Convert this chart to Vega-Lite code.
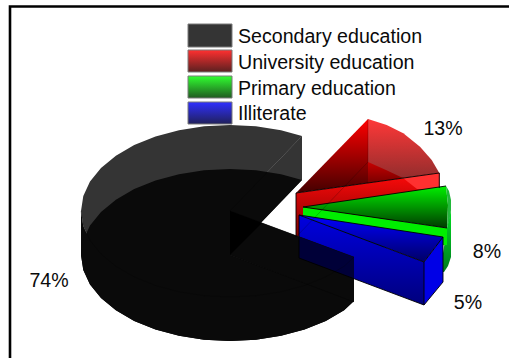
{
"$schema":"https://vega.github.io/schema/vega-lite/v6.json",
"width":509,"height":358,"padding":0,"autosize":"none","background":"white",
"config":{"view":{"stroke":null}},
"datasets":{"outlines":[
{"part":"redLeft","seq":1,"x":296,"y":193},{"part":"redLeft","seq":2,"x":368,"y":119},{"part":"redLeft","seq":3,"x":368,"y":183},
{"part":"redRim","seq":1,"x":368,"y":119},{"part":"redRim","seq":2,"x":386.7,"y":125},{"part":"redRim","seq":3,"x":403.3,"y":133.3},{"part":"redRim","seq":4,"x":420,"y":146.7},{"part":"redRim","seq":5,"x":431.7,"y":160},{"part":"redRim","seq":6,"x":439.3,"y":173},{"part":"redRim","seq":7,"x":368,"y":183},
{"part":"redFloor","seq":1,"x":368,"y":162},{"part":"redFloor","seq":2,"x":386,"y":170},{"part":"redFloor","seq":3,"x":403,"y":178},{"part":"redFloor","seq":4,"x":368,"y":183},
{"part":"redWall","seq":1,"x":296,"y":193},{"part":"redWall","seq":2,"x":439.3,"y":173},{"part":"redWall","seq":3,"x":439.3,"y":216},{"part":"redWall","seq":4,"x":296,"y":237},
{"part":"redGlow","seq":1,"x":403,"y":178},{"part":"redGlow","seq":2,"x":439.3,"y":173},{"part":"redGlow","seq":3,"x":439.3,"y":189},{"part":"redGlow","seq":4,"x":417,"y":189},
{"part":"greenOuter","seq":1,"x":447,"y":228},{"part":"greenOuter","seq":2,"x":451,"y":210},{"part":"greenOuter","seq":3,"x":451,"y":257},{"part":"greenOuter","seq":4,"x":448,"y":266},{"part":"greenOuter","seq":5,"x":444,"y":272},{"part":"greenOuter","seq":6,"x":440,"y":272},
{"part":"greenWall","seq":1,"x":303,"y":207},{"part":"greenWall","seq":2,"x":447,"y":228},{"part":"greenWall","seq":3,"x":447,"y":245},{"part":"greenWall","seq":4,"x":303,"y":250},
{"part":"greenTop","seq":1,"x":303,"y":207},{"part":"greenTop","seq":2,"x":446,"y":186},{"part":"greenTop","seq":3,"x":448,"y":205},{"part":"greenTop","seq":4,"x":447,"y":228},
{"part":"greenCrescent","seq":1,"x":446,"y":186},{"part":"greenCrescent","seq":2,"x":449,"y":191},{"part":"greenCrescent","seq":3,"x":451,"y":200},{"part":"greenCrescent","seq":4,"x":451,"y":210},{"part":"greenCrescent","seq":5,"x":449.5,"y":220},{"part":"greenCrescent","seq":6,"x":447,"y":228},{"part":"greenCrescent","seq":7,"x":448,"y":205},
{"part":"blueWall","seq":1,"x":299,"y":215},{"part":"blueWall","seq":2,"x":424,"y":262},{"part":"blueWall","seq":3,"x":424,"y":305},{"part":"blueWall","seq":4,"x":299,"y":258},
{"part":"blueOuter","seq":1,"x":424,"y":262},{"part":"blueOuter","seq":2,"x":443,"y":237},{"part":"blueOuter","seq":3,"x":443,"y":282},{"part":"blueOuter","seq":4,"x":424,"y":305},
{"part":"blueTop","seq":1,"x":299,"y":215},{"part":"blueTop","seq":2,"x":443,"y":237},{"part":"blueTop","seq":3,"x":424,"y":262},
{"part":"pieTop","seq":0,"x":230,"y":211},
{"part":"pieTop","seq":1,"x":302,"y":136},{"part":"pieTop","seq":2,"x":281,"y":130.2},{"part":"pieTop","seq":3,"x":255.9,"y":126.3},{"part":"pieTop","seq":4,"x":230,"y":125},{"part":"pieTop","seq":5,"x":204.1,"y":126.3},{"part":"pieTop","seq":6,"x":179,"y":130.2},{"part":"pieTop","seq":7,"x":155.5,"y":136.5},{"part":"pieTop","seq":8,"x":134.2,"y":145.1},{"part":"pieTop","seq":9,"x":115.9,"y":155.7},{"part":"pieTop","seq":10,"x":101,"y":168},{"part":"pieTop","seq":11,"x":90,"y":181.6},{"part":"pieTop","seq":12,"x":83.3,"y":196.1},{"part":"pieTop","seq":13,"x":81,"y":211},{"part":"pieTop","seq":14,"x":83.3,"y":225.9},{"part":"pieTop","seq":15,"x":90,"y":240.4},{"part":"pieTop","seq":16,"x":101,"y":254},{"part":"pieTop","seq":17,"x":115.9,"y":266.3},{"part":"pieTop","seq":18,"x":134.2,"y":276.9},{"part":"pieTop","seq":19,"x":155.5,"y":285.5},{"part":"pieTop","seq":20,"x":179,"y":291.8},{"part":"pieTop","seq":21,"x":204.1,"y":295.7},{"part":"pieTop","seq":22,"x":230,"y":297},{"part":"pieTop","seq":23,"x":255.9,"y":295.7},{"part":"pieTop","seq":24,"x":281,"y":291.8},{"part":"pieTop","seq":25,"x":304.5,"y":285.5},{"part":"pieTop","seq":26,"x":325.8,"y":276.9},{"part":"pieTop","seq":27,"x":344.1,"y":266.3},{"part":"pieTop","seq":28,"x":354,"y":257},
{"part":"pieBackWall","seq":1,"x":230,"y":211},{"part":"pieBackWall","seq":2,"x":302,"y":136},{"part":"pieBackWall","seq":3,"x":302,"y":180},{"part":"pieBackWall","seq":4,"x":230,"y":255},
{"part":"pieSide","seq":1,"x":81,"y":211},{"part":"pieSide","seq":2,"x":83.3,"y":225.9},{"part":"pieSide","seq":3,"x":90,"y":240.4},{"part":"pieSide","seq":4,"x":101,"y":254},{"part":"pieSide","seq":5,"x":115.9,"y":266.3},{"part":"pieSide","seq":6,"x":134.2,"y":276.9},{"part":"pieSide","seq":7,"x":155.5,"y":285.5},{"part":"pieSide","seq":8,"x":179,"y":291.8},{"part":"pieSide","seq":9,"x":204.1,"y":295.7},{"part":"pieSide","seq":10,"x":230,"y":297},{"part":"pieSide","seq":11,"x":255.9,"y":295.7},{"part":"pieSide","seq":12,"x":281,"y":291.8},{"part":"pieSide","seq":13,"x":304.5,"y":285.5},{"part":"pieSide","seq":14,"x":325.8,"y":276.9},{"part":"pieSide","seq":15,"x":344.1,"y":266.3},{"part":"pieSide","seq":16,"x":354,"y":257},
{"part":"pieSide","seq":17,"x":354,"y":301},{"part":"pieSide","seq":18,"x":344.1,"y":310.3},{"part":"pieSide","seq":19,"x":325.8,"y":320.9},{"part":"pieSide","seq":20,"x":304.5,"y":329.5},{"part":"pieSide","seq":21,"x":281,"y":335.8},{"part":"pieSide","seq":22,"x":255.9,"y":339.7},{"part":"pieSide","seq":23,"x":230,"y":341},{"part":"pieSide","seq":24,"x":204.1,"y":339.7},{"part":"pieSide","seq":25,"x":179,"y":335.8},{"part":"pieSide","seq":26,"x":155.5,"y":329.5},{"part":"pieSide","seq":27,"x":134.2,"y":320.9},{"part":"pieSide","seq":28,"x":115.9,"y":310.3},{"part":"pieSide","seq":29,"x":101,"y":298},{"part":"pieSide","seq":30,"x":90,"y":284.4},{"part":"pieSide","seq":31,"x":83.3,"y":269.9},{"part":"pieSide","seq":32,"x":81,"y":255},
{"part":"pieBottom","seq":0,"x":230,"y":255},
{"part":"pieBottom","seq":1,"x":302,"y":180},{"part":"pieBottom","seq":2,"x":281,"y":174.2},{"part":"pieBottom","seq":3,"x":255.9,"y":170.3},{"part":"pieBottom","seq":4,"x":230,"y":169},{"part":"pieBottom","seq":5,"x":204.1,"y":170.3},{"part":"pieBottom","seq":6,"x":179,"y":174.2},{"part":"pieBottom","seq":7,"x":155.5,"y":180.5},{"part":"pieBottom","seq":8,"x":134.2,"y":189.1},{"part":"pieBottom","seq":9,"x":115.9,"y":199.7},{"part":"pieBottom","seq":10,"x":101,"y":212},{"part":"pieBottom","seq":11,"x":90,"y":225.6},{"part":"pieBottom","seq":12,"x":83.3,"y":240.1},{"part":"pieBottom","seq":13,"x":81,"y":255},{"part":"pieBottom","seq":14,"x":83.3,"y":269.9},{"part":"pieBottom","seq":15,"x":90,"y":284.4},{"part":"pieBottom","seq":16,"x":101,"y":298},{"part":"pieBottom","seq":17,"x":115.9,"y":310.3},{"part":"pieBottom","seq":18,"x":134.2,"y":320.9},{"part":"pieBottom","seq":19,"x":155.5,"y":329.5},{"part":"pieBottom","seq":20,"x":179,"y":335.8},{"part":"pieBottom","seq":21,"x":204.1,"y":339.7},{"part":"pieBottom","seq":22,"x":230,"y":341},{"part":"pieBottom","seq":23,"x":255.9,"y":339.7},{"part":"pieBottom","seq":24,"x":281,"y":335.8},{"part":"pieBottom","seq":25,"x":304.5,"y":329.5},{"part":"pieBottom","seq":26,"x":325.8,"y":320.9},{"part":"pieBottom","seq":27,"x":344.1,"y":310.3},{"part":"pieBottom","seq":28,"x":354,"y":301},
{"part":"pieFrontWall","seq":1,"x":230,"y":211},{"part":"pieFrontWall","seq":2,"x":354,"y":257},{"part":"pieFrontWall","seq":3,"x":354,"y":302},{"part":"pieFrontWall","seq":4,"x":230,"y":255},
{"part":"pieCore","seq":1,"x":230,"y":211},{"part":"pieCore","seq":2,"x":262,"y":223},{"part":"pieCore","seq":3,"x":230,"y":255},
{"part":"blueShade","seq":1,"x":299,"y":236.6},{"part":"blueShade","seq":2,"x":354,"y":257},{"part":"blueShade","seq":3,"x":354,"y":278.7},{"part":"blueShade","seq":4,"x":299,"y":258},
{"part":"edgeA","seq":1,"x":296,"y":237},{"part":"edgeA","seq":2,"x":296,"y":193},{"part":"edgeA","seq":3,"x":439.3,"y":173},{"part":"edgeA","seq":4,"x":439.3,"y":188},
{"part":"edgeB","seq":1,"x":447,"y":228},{"part":"edgeB","seq":2,"x":303,"y":207},{"part":"edgeB","seq":3,"x":446,"y":186},
{"part":"edgeC","seq":1,"x":299,"y":215},{"part":"edgeC","seq":2,"x":443,"y":237},{"part":"edgeC","seq":3,"x":424,"y":262},{"part":"edgeC","seq":4,"x":299,"y":215},{"part":"edgeC","seq":5,"x":299,"y":258},{"part":"edgeC","seq":6,"x":424,"y":305},{"part":"edgeC","seq":7,"x":424,"y":262},
{"part":"edgeD","seq":1,"x":424,"y":305},{"part":"edgeD","seq":2,"x":443,"y":282},{"part":"edgeD","seq":3,"x":443,"y":237},
{"part":"faintA","seq":1,"x":230,"y":211},{"part":"faintA","seq":2,"x":302,"y":136},
{"part":"faintB","seq":1,"x":230,"y":255},{"part":"faintB","seq":2,"x":354,"y":302},
{"part":"faintC","seq":1,"x":230,"y":211},{"part":"faintC","seq":2,"x":354,"y":257},
{"part":"faintD","seq":1,"x":368,"y":119},{"part":"faintD","seq":2,"x":368,"y":162},{"part":"faintD","seq":3,"x":296,"y":237},
{"part":"faintE","seq":1,"x":81,"y":211},{"part":"faintE","seq":2,"x":83.3,"y":225.9},{"part":"faintE","seq":3,"x":90,"y":240.4},{"part":"faintE","seq":4,"x":101,"y":254},{"part":"faintE","seq":5,"x":115.9,"y":266.3},{"part":"faintE","seq":6,"x":134.2,"y":276.9},{"part":"faintE","seq":7,"x":155.5,"y":285.5},{"part":"faintE","seq":8,"x":179,"y":291.8},{"part":"faintE","seq":9,"x":204.1,"y":295.7},{"part":"faintE","seq":10,"x":230,"y":297},{"part":"faintE","seq":11,"x":255.9,"y":295.7},{"part":"faintE","seq":12,"x":281,"y":291.8},{"part":"faintE","seq":13,"x":304.5,"y":285.5},{"part":"faintE","seq":14,"x":325.8,"y":276.9},{"part":"faintE","seq":15,"x":344.1,"y":266.3},{"part":"faintE","seq":16,"x":354,"y":257},
{"part":"frame","seq":1,"x":10,"y":358},{"part":"frame","seq":2,"x":10,"y":6.5},{"part":"frame","seq":3,"x":509,"y":6.5}
]},
"data":{"name":"outlines"},
"encoding":{
"x":{"field":"x","type":"quantitative","axis":null,"scale":{"domain":[0,509],"nice":false,"zero":false}},
"y":{"field":"y","type":"quantitative","axis":null,"scale":{"domain":[358,0],"nice":false,"zero":false}},
"order":{"field":"seq","type":"quantitative"},
"detail":{"field":"part","type":"nominal"}
},
"layer":[
{"transform":[{"filter":"datum.part==='redLeft'"}],"mark":{"type":"line","strokeWidth":0,"clip":false,"fill":{"x1":0,"y1":0,"x2":0,"y2":1,"gradient":"linear","stops":[{"offset":0,"color":"#ff0000"},{"offset":1,"color":"#440000"}]}}},
{"transform":[{"filter":"datum.part==='redRim'"}],"mark":{"type":"line","strokeWidth":0,"fill":{"x1":0,"y1":0,"x2":0,"y2":1,"gradient":"linear","stops":[{"offset":0,"color":"#ff3838"},{"offset":1,"color":"#8a2c2c"}]}}},
{"transform":[{"filter":"datum.part==='redFloor'"}],"mark":{"type":"line","strokeWidth":0,"fill":{"x1":0,"y1":0,"x2":0,"y2":1,"gradient":"linear","stops":[{"offset":0,"color":"#c80000"},{"offset":1,"color":"#780000"}]}}},
{"transform":[{"filter":"datum.part==='redWall'"}],"mark":{"type":"line","strokeWidth":0,"fill":{"x1":0,"y1":0,"x2":0,"y2":1,"gradient":"linear","stops":[{"offset":0,"color":"#ff0a0a"},{"offset":1,"color":"#7a0000"}]}}},
{"transform":[{"filter":"datum.part==='redGlow'"}],"mark":{"type":"line","strokeWidth":0,"fill":"#ff3030"}},
{"transform":[{"filter":"datum.part==='greenOuter'"}],"mark":{"type":"line","strokeWidth":0,"fill":{"x1":0,"y1":0,"x2":0,"y2":1,"gradient":"linear","stops":[{"offset":0,"color":"#00e020"},{"offset":1,"color":"#007a20"}]}}},
{"transform":[{"filter":"datum.part==='greenWall'"}],"mark":{"type":"line","strokeWidth":0,"fill":"#00ee00"}},
{"transform":[{"filter":"datum.part==='greenTop'"}],"mark":{"type":"line","strokeWidth":0,"fill":{"x1":0,"y1":0,"x2":0,"y2":1,"gradient":"linear","stops":[{"offset":0,"color":"#00f000"},{"offset":1,"color":"#003a00"}]}}},
{"transform":[{"filter":"datum.part==='greenCrescent'"}],"mark":{"type":"line","strokeWidth":0,"fill":"#22b83a"}},
{"transform":[{"filter":"datum.part==='blueWall'"}],"mark":{"type":"line","strokeWidth":0,"fill":{"x1":0,"y1":0,"x2":0,"y2":1,"gradient":"linear","stops":[{"offset":0,"color":"#0000e0"},{"offset":1,"color":"#00007c"}]}}},
{"transform":[{"filter":"datum.part==='blueOuter'"}],"mark":{"type":"line","strokeWidth":0,"fill":"#0000e6"}},
{"transform":[{"filter":"datum.part==='blueTop'"}],"mark":{"type":"line","strokeWidth":0,"fill":{"x1":0,"y1":0,"x2":0,"y2":1,"gradient":"linear","stops":[{"offset":0,"color":"#0000ff"},{"offset":1,"color":"#000066"}]}}},
{"transform":[{"filter":"datum.part==='pieTop'||datum.part==='pieBackWall'"}],"mark":{"type":"line","strokeWidth":0,"fill":"#343434"}},
{"transform":[{"filter":"datum.part==='pieSide'||datum.part==='pieBottom'||datum.part==='pieFrontWall'"}],"mark":{"type":"line","strokeWidth":0,"fill":"#0a0a0a"}},
{"transform":[{"filter":"datum.part==='pieCore'"}],"mark":{"type":"line","strokeWidth":0,"fill":"#000000"}},
{"transform":[{"filter":"datum.part==='blueShade'"}],"mark":{"type":"line","strokeWidth":0,"fill":"#000038"}},
{"transform":[{"filter":"test(/^edge/, datum.part)"}],"mark":{"type":"line","stroke":"#000000","strokeWidth":0.9}},
{"transform":[{"filter":"test(/^faint/, datum.part)"}],"mark":{"type":"line","stroke":"#000000","strokeWidth":0.6,"opacity":0.35}},
{"transform":[{"filter":"datum.part==='frame'"}],"mark":{"type":"line","stroke":"#000000","strokeWidth":2.6,"clip":false}},
{"data":{"values":[{"x":188,"x2":232,"y":24,"y2":47}]},"mark":{"type":"rect","fill":"#343434","stroke":"#7a7a7a","strokeWidth":1},"encoding":{"x2":{"field":"x2"},"y2":{"field":"y2"}}},
{"data":{"values":[{"x":188,"x2":232,"y":50,"y2":72}]},"mark":{"type":"rect","stroke":"#7a7a7a","strokeWidth":1,"fill":{"x1":0,"y1":0,"x2":0,"y2":1,"gradient":"linear","stops":[{"offset":0,"color":"#ff3030"},{"offset":1,"color":"#5a2020"}]}},"encoding":{"x2":{"field":"x2"},"y2":{"field":"y2"}}},
{"data":{"values":[{"x":188,"x2":232,"y":76,"y2":98}]},"mark":{"type":"rect","stroke":"#7a7a7a","strokeWidth":1,"fill":{"x1":0,"y1":0,"x2":0,"y2":1,"gradient":"linear","stops":[{"offset":0,"color":"#30ff30"},{"offset":1,"color":"#205a20"}]}},"encoding":{"x2":{"field":"x2"},"y2":{"field":"y2"}}},
{"data":{"values":[{"x":188,"x2":232,"y":102,"y2":124}]},"mark":{"type":"rect","stroke":"#7a7a7a","strokeWidth":1,"fill":{"x1":0,"y1":0,"x2":0,"y2":1,"gradient":"linear","stops":[{"offset":0,"color":"#3030ff"},{"offset":1,"color":"#20205a"}]}},"encoding":{"x2":{"field":"x2"},"y2":{"field":"y2"}}},
{"data":{"values":[{"label":"Secondary education","x":238,"y":37},{"label":"University education","x":238,"y":62.5},{"label":"Primary education","x":238,"y":88.5},{"label":"Illiterate","x":238,"y":114}]},"mark":{"type":"text","align":"left","baseline":"middle","font":"Liberation Sans","fontSize":19.6,"fill":"#0a0a0a"},"encoding":{"text":{"field":"label"}}},
{"data":{"values":[{"label":"74%","x":49,"y":280.5},{"label":"13%","x":443,"y":128.5},{"label":"8%","x":487,"y":251.5},{"label":"5%","x":468,"y":302.5}]},"mark":{"type":"text","align":"center","baseline":"middle","font":"Liberation Sans","fontSize":19.6,"fill":"#0a0a0a"},"encoding":{"text":{"field":"label"}}}
]
}
